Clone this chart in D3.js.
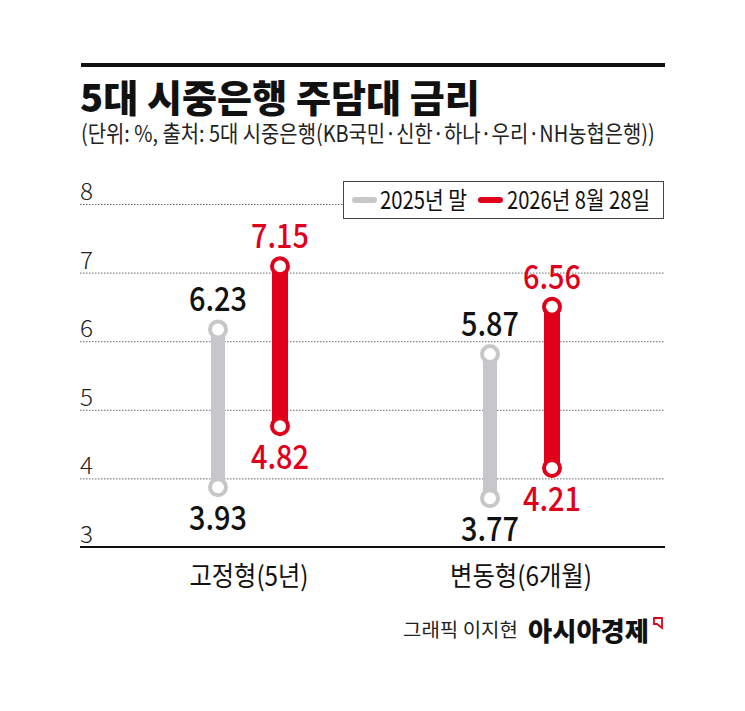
<!DOCTYPE html>
<html>
<head>
<meta charset="utf-8">
<script src="https://cdn.jsdelivr.net/npm/d3@7"></script>
<style>
  html, body { margin: 0; padding: 0; background: #fff; }
  text { font-family: "Noto Sans CJK KR", "Noto Sans", sans-serif; }
</style>
</head>
<body>
<div id="chart"></div>
<script>
// data
var categories = ["고정형(5년)", "변동형(6개월)"];
var seriesNames = ["2025년 말", "2026년 8월 28일"];
var low2025 = [3.93, 3.77];
var high2025 = [6.23, 5.87];
var low2026 = [4.82, 4.21];
var high2026 = [7.15, 6.56];
var yTicks = [3, 4, 5, 6, 7, 8];

var colors = { "2025년 말": "#c7c7c9", "2026년 8월 28일": "#e0001b" };
var labelColors = { "2025년 말": "#111", "2026년 8월 28일": "#e0001b" };

var rows = [];
categories.forEach(function(c, i) {
    rows.push({ cat: c, series: seriesNames[0], low: low2025[i], high: high2025[i] });
    rows.push({ cat: c, series: seriesNames[1], low: low2026[i], high: high2026[i] });
});

var width = 745, height = 711;
var left = 80, right = 665;

var svg = d3.select("#chart").append("svg")
    .attr("width", width)
    .attr("height", height);

svg.append("rect").attr("width", width).attr("height", height).attr("fill", "#fff");

// squeeze a text horizontally so it fits the width seen in the picture
function fit(sel, w) {
    sel.each(function() {
        var t = d3.select(this);
        var len = this.getComputedTextLength();
        var s = w / len;
        var x = +t.attr("x"), y = +t.attr("y");
        t.attr("x", 0).attr("y", 0)
            .attr("transform", "translate(" + x + "," + y + ") scale(" + s + ",1)");
    });
}

// header
svg.append("rect").attr("x", 81).attr("y", 63).attr("width", right - 81).attr("height", 4).attr("fill", "#111");

svg.append("text")
    .attr("x", 80).attr("y", 112)
    .attr("font-size", 38).attr("font-weight", 900).attr("fill", "#111")
    .text("5대 시중은행 주담대 금리")
    .call(fit, 400);

svg.append("text")
    .attr("x", 81).attr("y", 142)
    .attr("font-size", 23).attr("font-weight", 400).attr("fill", "#222")
    .text("(단위: %, 출처: 5대 시중은행(KB국민·신한·하나·우리·NH농협은행))")
    .call(fit, 574);

// scales
var y = d3.scaleLinear().domain([3, 8]).range([547, 204]);
var x0 = d3.scaleBand().domain(categories).range([113, 657]).padding(0);
var x1 = d3.scaleBand().domain(seriesNames).range([-62, 62]).padding(0);
var markShift = 4;

// grid
svg.append("g").selectAll("line")
    .data(yTicks.filter(function(d) { return d > 3; }))
    .enter().append("line")
    .attr("x1", left).attr("x2", right)
    .attr("y1", function(d) { return y(d) + 0.5; })
    .attr("y2", function(d) { return y(d) + 0.5; })
    .attr("stroke", "#666").attr("stroke-width", 1).attr("stroke-dasharray", "1.5,1.5");

svg.append("line")
    .attr("x1", left).attr("x2", right)
    .attr("y1", y(3)).attr("y2", y(3))
    .attr("stroke", "#111").attr("stroke-width", 2);

svg.append("g").selectAll("text")
    .data(yTicks)
    .enter().append("text")
    .attr("x", 80)
    .attr("y", function(d) { return y(d) - 4; })
    .attr("font-size", 23).attr("font-weight", 300).attr("fill", "#222")
    .text(function(d) { return d; })
    .call(fit, 13);

// legend
var lg = svg.append("g");
lg.append("rect").attr("x", 343.5).attr("y", 181.5).attr("width", 320).attr("height", 37)
    .attr("fill", "#fff").attr("stroke", "#444").attr("stroke-width", 1);
var legendItems = [
    { name: seriesNames[0], sx: 355, tx: 380, tw: 87 },
    { name: seriesNames[1], sx: 481, tx: 507, tw: 143 }
];
legendItems.forEach(function(it) {
    lg.append("line")
        .attr("x1", it.sx).attr("x2", it.sx + 19)
        .attr("y1", 200).attr("y2", 200)
        .attr("stroke", colors[it.name]).attr("stroke-width", 6).attr("stroke-linecap", "round");
    lg.append("text")
        .attr("x", it.tx).attr("y", 209)
        .attr("font-size", 24).attr("font-weight", 400).attr("fill", "#111")
        .text(it.name)
        .call(fit, it.tw);
});

// bars
function cx(d) { return x0(d.cat) + x0.bandwidth() / 2 + x1(d.series) + x1.bandwidth() / 2; }

var g = svg.append("g");
g.selectAll(".bar")
    .data(rows)
    .enter().append("line")
    .attr("class", "bar")
    .attr("x1", cx).attr("x2", cx)
    .attr("y1", function(d) { return y(d.high) + markShift; })
    .attr("y2", function(d) { return y(d.low) + markShift; })
    .attr("stroke", function(d) { return colors[d.series]; })
    .attr("stroke-width", function(d) { return d.series === seriesNames[0] ? 14 : 16; });

var ends = [];
rows.forEach(function(d) {
    ends.push({ row: d, v: d.high, top: true });
    ends.push({ row: d, v: d.low, top: false });
});

g.selectAll(".dot")
    .data(ends)
    .enter().append("circle")
    .attr("class", "dot")
    .attr("cx", function(d) { return cx(d.row); })
    .attr("cy", function(d) { return y(d.v) + markShift; })
    .attr("r", 8)
    .attr("fill", "#fff")
    .attr("stroke", function(d) { return colors[d.row.series]; })
    .attr("stroke-width", 4);

g.selectAll(".val")
    .data(ends)
    .enter().append("text")
    .attr("class", "val")
    .attr("x", function(d) { return cx(d.row); })
    .attr("y", function(d) { return y(d.v) + markShift + (d.top ? -18 : 43); })
    .attr("font-size", 33).attr("font-weight", 500)
    .attr("fill", function(d) { return labelColors[d.row.series]; })
    .text(function(d) { return d.v.toFixed(2); })
    .call(fit, 58)
    .attr("text-anchor", "middle");

// category labels
svg.append("g").selectAll("text")
    .data(categories)
    .enter().append("text")
    .attr("x", function(d) { return x0(d) + x0.bandwidth() / 2; })
    .attr("y", 586)
    .attr("text-anchor", "middle")
    .attr("font-size", 27).attr("font-weight", 400).attr("fill", "#111")
    .text(function(d) { return d; })
    .call(function(sel) {
        sel.each(function(d, i) {
            fit(d3.select(this), i === 0 ? 119 : 142);
        });
    });

// credit
svg.append("text")
    .attr("x", 403).attr("y", 637)
    .attr("font-size", 19).attr("font-weight", 400).attr("fill", "#222")
    .text("그래픽 이지현")
    .call(fit, 115);
svg.append("text")
    .attr("x", 528).attr("y", 641)
    .attr("font-size", 26).attr("font-weight", 900).attr("fill", "#111")
    .text("아시아경제")
    .call(fit, 121);
svg.append("path")
    .attr("d", "M654,618 L662,618 L662,628 L657,624 L654,624 Z")
    .attr("fill", "none").attr("stroke", "#e0001b").attr("stroke-width", 1.8);
</script>
</body>
</html>
